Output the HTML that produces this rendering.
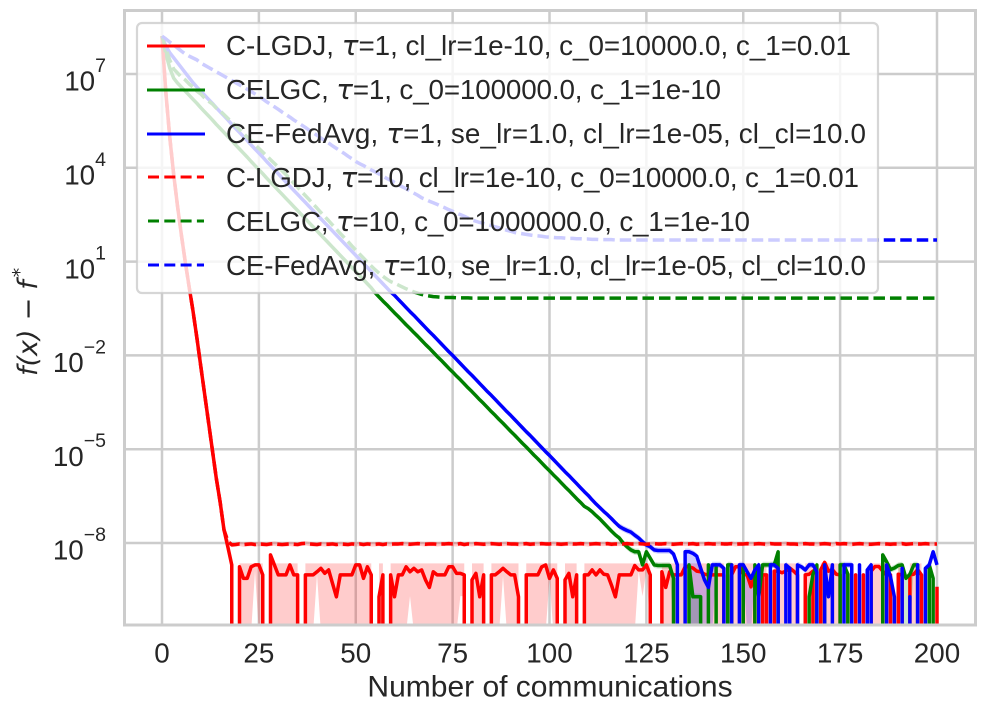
<!DOCTYPE html>
<html>
<head>
<meta charset="utf-8">
<title>Convergence chart</title>
<style>
html,body{margin:0;padding:0;background:#fff;width:986px;height:712px;overflow:hidden;}
svg{display:block;overflow:hidden;}
text{font-family:"Liberation Sans",Arial,sans-serif;fill:#262626;}
.math{font-family:"DejaVu Sans",sans-serif;font-style:italic;}
.leg{font-size:27.8px;}
</style>
</head>
<body>
<svg id="chart" width="986" height="712" viewBox="0 0 986 712" xmlns="http://www.w3.org/2000/svg">
  <defs><clipPath id="plot-clip"><rect x="124" y="10" width="852" height="615"/></clipPath></defs>
  <rect x="0" y="0" width="986" height="712" fill="#ffffff"/>
  <g id="grid"></g>
  <g id="marks" clip-path="url(#plot-clip)"></g>
  <rect x="124.5" y="10.5" width="851" height="614.5" fill="none" stroke="#cccccc" stroke-width="3"/>
  <g id="legend">
    <rect x="137" y="23" width="741" height="270" rx="5" ry="5" fill="#ffffff" fill-opacity="0.8" stroke="#cccccc" stroke-opacity="0.8" stroke-width="2.2"/>
    <g>
      <line x1="147" x2="205" y1="46" y2="46" stroke="#ff0000" stroke-width="3"/>
      <text class="leg" x="226" y="55" textLength="625" lengthAdjust="spacing">C-LGDJ, <tspan class="math">τ</tspan>=1, cl_lr=1e-10, c_0=10000.0, c_1=0.01</text>
    </g>
    <g>
      <line x1="147" x2="205" y1="90" y2="90" stroke="#008000" stroke-width="3"/>
      <text class="leg" x="226" y="99" textLength="495" lengthAdjust="spacing">CELGC, <tspan class="math">τ</tspan>=1, c_0=100000.0, c_1=1e-10</text>
    </g>
    <g>
      <line x1="147" x2="205" y1="134" y2="134" stroke="#0000ff" stroke-width="3"/>
      <text class="leg" x="226" y="143" textLength="640" lengthAdjust="spacing">CE-FedAvg, <tspan class="math">τ</tspan>=1, se_lr=1.0, cl_lr=1e-05, cl_cl=10.0</text>
    </g>
    <g>
      <line x1="148" x2="204" y1="177" y2="177" stroke="#ff0000" stroke-width="3" stroke-dasharray="11 5.3"/>
      <text class="leg" x="226" y="187" textLength="633" lengthAdjust="spacing">C-LGDJ, <tspan class="math">τ</tspan>=10, cl_lr=1e-10, c_0=10000.0, c_1=0.01</text>
    </g>
    <g>
      <line x1="148" x2="204" y1="221" y2="221" stroke="#008000" stroke-width="3" stroke-dasharray="11 5.3"/>
      <text class="leg" x="226" y="231" textLength="524" lengthAdjust="spacing">CELGC, <tspan class="math">τ</tspan>=10, c_0=1000000.0, c_1=1e-10</text>
    </g>
    <g>
      <line x1="148" x2="204" y1="265" y2="265" stroke="#0000ff" stroke-width="3" stroke-dasharray="11 5.3"/>
      <text class="leg" x="226" y="275" textLength="640" lengthAdjust="spacing">CE-FedAvg, <tspan class="math">τ</tspan>=10, se_lr=1.0, cl_lr=1e-05, cl_cl=10.0</text>
    </g>
  </g>
  <g id="ticks"></g>
  <text x="550" y="696.5" text-anchor="middle" font-size="30">Number of communications</text>
  <text transform="translate(37,376) rotate(-90)" font-size="27"><tspan class="math">f</tspan><tspan class="math" font-style="normal">(</tspan><tspan class="math">x</tspan><tspan class="math" font-style="normal">)</tspan><tspan class="math" font-style="normal" dx="9">−</tspan><tspan class="math" dx="8">f</tspan><tspan class="math" font-style="normal" font-size="19" dx="3" dy="-11">*</tspan></text>
</svg>
<script>
// All series values are log10(f(x) - f*) per communication round; null = exactly zero (falls off the log axis).
const xTickValues = [0, 25, 50, 75, 100, 125, 150, 175, 200];
const yTickExponents = [7, 4, 1, -2, -5, -8];

const clgdjTau1 = [
8.21,6.39,4.98,3.80,2.78,1.85,0.99,0.19,-0.58,-1.44,
-2.34,-3.24,-4.13,-5.03,-5.92,-6.69,-7.58,-8.13,-8.70,null,
-8.76,-9.13,-9.13,-8.76,-8.70,-8.70,-9.02,null,-8.38,-8.70,
-9.02,-9.02,-9.02,-8.70,-9.02,-9.02,null,-9.02,-9.02,-9.02,
-8.92,-8.81,-8.97,-8.86,-9.29,-9.72,-9.02,-9.02,-9.02,-9.02,
-8.70,-8.70,-9.13,-8.76,-9.02,null,-9.72,-9.02,null,-9.02,
-9.72,-9.02,-9.02,-8.76,-8.92,-8.81,-8.92,-8.86,-9.18,-9.42,
-8.92,-9.02,-9.02,-9.02,-8.76,-8.76,-8.97,-8.97,-9.02,null,
-9.18,-8.97,-9.72,-9.02,null,-9.02,-9.02,-8.92,-8.81,-8.92,
-9.02,-9.02,-9.72,null,-9.02,-9.02,-9.02,-9.02,-8.76,-8.70,
-9.13,-8.86,-9.13,null,-9.18,-8.97,-9.72,-9.02,null,-9.02,
-9.02,-8.86,-9.02,-8.86,-9.00,-9.02,-9.35,-9.72,-9.02,-9.02,
-9.02,-9.02,-8.72,-8.86,-8.86,-8.70,-9.02,null,null,-8.92,
-9.42,-8.92,-9.02,-9.02,-9.02,-8.76,-8.76,-8.80,-8.90,-8.92,
-9.00,-9.02,-9.02,-9.02,-9.02,-9.02,null,-9.02,-8.76,-8.76,
-9.00,-9.02,-9.40,-9.00,null,-9.02,-9.02,null,-8.90,-8.90,
-8.95,-8.90,-8.80,-8.90,-9.02,null,-9.02,-9.00,-8.90,null,
-8.85,-8.62,-8.90,-8.85,-9.00,-9.02,null,-9.00,null,-9.02,
null,-9.02,null,-8.90,-8.75,-8.75,-8.90,-9.02,-9.02,null,
-9.00,-9.02,null,-9.02,-9.00,-8.85,-9.02,null,-9.02,null,
-9.40];

const celgcTau1 = [
8.21,7.64,7.19,6.87,6.71,6.58,6.45,6.32,6.19,6.06,
5.92,5.79,5.66,5.53,5.39,5.26,5.13,5.00,4.87,4.73,
4.60,4.47,4.34,4.20,4.07,3.94,3.81,3.67,3.54,3.41,
3.28,3.15,3.02,2.89,2.76,2.63,2.50,2.37,2.24,2.11,
1.98,1.85,1.72,1.59,1.46,1.33,1.20,1.07,0.94,0.81,
0.68,0.55,0.42,0.29,0.16,0.00,-0.13,-0.26,-0.38,-0.51,
-0.64,-0.76,-0.89,-1.02,-1.14,-1.27,-1.39,-1.52,-1.65,-1.77,
-1.90,-2.03,-2.15,-2.28,-2.41,-2.53,-2.66,-2.78,-2.91,-3.04,
-3.16,-3.29,-3.42,-3.54,-3.67,-3.80,-3.92,-4.05,-4.17,-4.30,
-4.43,-4.55,-4.68,-4.81,-4.93,-5.06,-5.19,-5.31,-5.44,-5.57,
-5.69,-5.82,-5.94,-6.07,-6.20,-6.32,-6.45,-6.58,-6.70,-6.83,
-6.90,-7.00,-7.12,-7.23,-7.36,-7.49,-7.62,-7.74,-7.84,-8.00,
-8.12,-8.22,-8.28,-8.28,-8.70,-8.28,-8.49,-8.70,-8.72,-8.72,
-8.72,-8.72,-9.13,null,null,null,-8.70,-9.72,-9.72,-9.72,
null,-8.70,null,-8.70,null,null,-8.70,-8.70,null,null,
-8.70,null,null,-8.70,-9.72,-8.70,-8.70,-8.70,-8.70,-8.28,
null,null,null,null,null,null,null,-9.72,-9.00,-8.70,
null,-8.70,null,null,null,-8.70,-8.70,-9.00,null,null,
null,null,null,null,null,null,-8.38,-8.60,-8.85,-8.80,
-8.72,-8.70,-9.13,-9.00,-8.70,-8.70,null,null,-8.70,-9.13,
null];

const cefedavgTau1 = [
8.21,7.89,7.68,7.52,7.36,7.20,7.04,6.88,6.72,6.58,
6.45,6.32,6.19,6.06,5.92,5.79,5.66,5.53,5.39,5.26,
5.13,5.00,4.87,4.73,4.60,4.47,4.34,4.20,4.07,3.94,
3.81,3.67,3.54,3.41,3.28,3.15,3.02,2.89,2.76,2.63,
2.50,2.37,2.24,2.11,1.98,1.85,1.72,1.59,1.46,1.33,
1.20,1.07,0.94,0.81,0.68,0.55,0.42,0.29,0.16,0.03,
-0.08,-0.21,-0.34,-0.47,-0.60,-0.72,-0.85,-0.98,-1.11,-1.24,
-1.36,-1.49,-1.62,-1.75,-1.88,-2.00,-2.13,-2.26,-2.39,-2.52,
-2.64,-2.77,-2.90,-3.03,-3.16,-3.28,-3.41,-3.54,-3.67,-3.80,
-3.92,-4.05,-4.18,-4.31,-4.44,-4.56,-4.69,-4.82,-4.95,-5.08,
-5.20,-5.33,-5.46,-5.59,-5.72,-5.84,-5.97,-6.10,-6.23,-6.36,
-6.48,-6.62,-6.75,-6.87,-6.99,-7.10,-7.22,-7.35,-7.47,-7.54,
-7.60,-7.65,-7.75,-7.84,-7.96,-8.06,-8.12,-8.22,-8.24,-8.24,
-8.24,-8.24,-8.35,-8.70,null,-8.28,-8.28,-8.33,-8.42,-8.80,
-9.18,-9.42,-8.70,-8.70,-8.70,-8.81,null,-8.70,null,-8.70,
-8.70,-8.92,-9.13,-8.86,-8.70,null,null,-8.70,-8.70,-8.81,
null,-8.70,-8.81,null,-8.70,-8.76,-8.86,-8.70,-8.70,-8.92,
null,-8.70,-9.72,-8.70,null,null,-8.70,-8.70,-8.70,null,
-8.70,null,-8.86,-8.70,null,null,null,-8.70,-9.08,-9.72,
null,-8.81,null,-9.72,null,-8.70,null,-8.81,-8.70,-8.28,
-8.70];

const clgdjTau10 = [
8.21,6.39,4.98,3.80,2.78,1.85,0.99,0.19,-0.58,-1.44,
-2.34,-3.24,-4.13,-5.03,-5.92,-6.69,-7.58,-7.94,-8.06,-8.05,
-8.03,-8.05,-8.04,-8.03,-8.05,-8.03,-8.04,-8.05,-8.03,-8.02,
-8.04,-8.05,-8.04,-8.03,-8.04,-8.05,-8.02,-8.01,-8.03,-8.04,
-8.05,-8.03,-8.04,-8.04,-8.03,-8.05,-8.03,-8.04,-8.05,-8.03,
-8.04,-8.03,-8.05,-8.03,-8.04,-8.04,-8.03,-8.05,-8.03,-8.04,
-8.03,-8.03,-8.02,-8.03,-8.04,-8.03,-8.02,-8.03,-8.04,-8.03,
-8.03,-8.04,-8.03,-8.03,-8.02,-8.03,-8.04,-8.02,-8.05,-8.03,
-8.04,-8.02,-8.03,-8.04,-8.03,-8.02,-8.03,-8.04,-8.03,-8.02,
-8.03,-8.03,-8.04,-8.03,-8.02,-8.04,-8.03,-8.03,-8.02,-8.03,
-8.03,-8.02,-8.03,-8.04,-8.03,-8.02,-8.03,-8.03,-8.02,-8.03,
-8.04,-8.03,-8.02,-8.03,-8.03,-8.02,-8.04,-8.03,-8.03,-8.03,
-8.02,-8.03,-8.03,-8.02,-8.03,-8.04,-8.03,-8.02,-8.03,-8.03,
-8.02,-8.03,-8.04,-8.03,-8.02,-8.03,-8.03,-8.02,-8.04,-8.03,
-8.03,-8.02,-8.03,-8.03,-8.02,-8.03,-8.03,-8.02,-8.04,-8.03,
-8.03,-8.02,-8.03,-8.03,-8.02,-8.03,-8.04,-8.02,-8.03,-8.03,
-8.03,-8.02,-8.03,-8.03,-8.04,-8.03,-8.02,-8.03,-8.03,-8.04,
-8.03,-8.02,-8.03,-8.05,-8.02,-8.03,-8.02,-8.03,-8.04,-8.03,
-8.02,-8.03,-8.04,-8.04,-8.03,-8.02,-8.03,-8.03,-8.04,-8.03,
-8.03,-8.02,-8.04,-8.03,-8.02,-8.03,-8.03,-8.02,-8.03,-8.03,
-8.03];

const celgcTau10 = [
8.21,7.80,7.45,7.16,7.03,6.90,6.81,6.68,6.58,6.45,
6.36,6.23,6.13,6.04,5.91,5.82,5.70,5.58,5.46,5.34,
5.22,5.10,4.98,4.86,4.74,4.62,4.50,4.38,4.26,4.14,
4.02,3.90,3.78,3.65,3.51,3.38,3.24,3.11,2.98,2.84,
2.71,2.57,2.44,2.31,2.17,2.04,1.90,1.77,1.64,1.50,
1.37,1.24,1.11,0.98,0.86,0.74,0.63,0.53,0.44,0.36,
0.31,0.25,0.19,0.13,0.08,0.03,-0.01,-0.05,-0.08,-0.10,
-0.12,-0.13,-0.14,-0.15,-0.15,-0.15,-0.16,-0.16,-0.16,-0.16,
-0.17,-0.17,-0.17,-0.17,-0.17,-0.17,-0.17,-0.17,-0.17,-0.17,
-0.17,-0.17,-0.17,-0.17,-0.17,-0.17,-0.17,-0.17,-0.17,-0.17,
-0.17,-0.17,-0.17,-0.17,-0.17,-0.17,-0.17,-0.17,-0.17,-0.17,
-0.17,-0.17,-0.17,-0.17,-0.17,-0.17,-0.17,-0.17,-0.17,-0.17,
-0.17,-0.17,-0.17,-0.17,-0.17,-0.17,-0.17,-0.17,-0.17,-0.17,
-0.17,-0.17,-0.17,-0.17,-0.17,-0.17,-0.17,-0.17,-0.17,-0.17,
-0.17,-0.17,-0.17,-0.17,-0.17,-0.17,-0.17,-0.17,-0.17,-0.17,
-0.17,-0.17,-0.17,-0.17,-0.17,-0.17,-0.17,-0.17,-0.17,-0.17,
-0.17,-0.17,-0.17,-0.17,-0.17,-0.17,-0.17,-0.17,-0.17,-0.17,
-0.17,-0.17,-0.17,-0.17,-0.17,-0.17,-0.17,-0.17,-0.17,-0.17,
-0.17,-0.17,-0.17,-0.17,-0.17,-0.17,-0.17,-0.17,-0.17,-0.17,
-0.17,-0.17,-0.17,-0.17,-0.17,-0.17,-0.17,-0.17,-0.17,-0.17,
-0.17];

const cefedavgTau10 = [
8.21,8.12,8.02,7.93,7.83,7.73,7.64,7.57,7.51,7.45,
7.35,7.28,7.21,7.14,7.07,7.00,6.93,6.86,6.79,6.72,
6.65,6.58,6.51,6.44,6.36,6.28,6.20,6.11,6.03,5.95,
5.87,5.78,5.70,5.62,5.53,5.45,5.37,5.29,5.20,5.12,
5.04,4.95,4.87,4.79,4.70,4.62,4.54,4.46,4.37,4.29,
4.20,4.13,4.07,4.00,3.93,3.87,3.80,3.73,3.66,3.60,
3.53,3.46,3.39,3.33,3.26,3.19,3.12,3.04,2.99,2.93,
2.88,2.83,2.77,2.72,2.66,2.61,2.55,2.50,2.45,2.39,
2.33,2.29,2.25,2.22,2.18,2.15,2.11,2.08,2.04,2.00,
1.97,1.93,1.91,1.89,1.87,1.85,1.83,1.82,1.81,1.79,
1.78,1.77,1.76,1.76,1.75,1.74,1.74,1.73,1.73,1.72,
1.72,1.71,1.71,1.70,1.70,1.70,1.70,1.69,1.69,1.69,
1.69,1.69,1.69,1.69,1.69,1.69,1.69,1.69,1.69,1.69,
1.69,1.69,1.69,1.69,1.69,1.69,1.69,1.69,1.69,1.69,
1.69,1.69,1.69,1.69,1.69,1.69,1.69,1.69,1.69,1.69,
1.69,1.69,1.69,1.69,1.69,1.69,1.69,1.69,1.69,1.69,
1.69,1.69,1.69,1.69,1.69,1.69,1.69,1.69,1.69,1.69,
1.69,1.69,1.69,1.69,1.69,1.69,1.69,1.69,1.69,1.69,
1.69,1.69,1.69,1.69,1.69,1.69,1.69,1.69,1.69,1.69,
1.69,1.69,1.69,1.69,1.69,1.69,1.69,1.69,1.69,1.69,
1.69];

// Rounds where the red shaded spread stops short of the axis bottom, and the log10 level it stops at.
const clgdjNarrowRounds = [24,40,64,77,78,88,100,123,124,125];
const clgdjNarrowFloors = [-8.9,-9.0,-9.7,-9.7,-9.7,-9.05,-9.15,-8.9,-9.7,-8.9];
// Rounds at which the green and blue spreads do reach the bottom of the axis.
const celgcDeepRounds = [132,136,137,138,139,167,168,169,191,192,193];
const cefedavgDeepRounds = [136,137,138,139,140,141,142,151,152,188,189];

const svgNS = 'http://www.w3.org/2000/svg';
const xScale = function (round) { return 162 + 3.875 * round; };
const yScale = function (logValue) { return 543 - (logValue + 8) * 31.27; };
const belowAxisY = 632;

const gridGroup = document.getElementById('grid');
const marksGroup = document.getElementById('marks');
const ticksGroup = document.getElementById('ticks');

xTickValues.forEach(function (t) {
  const g = document.createElementNS(svgNS, 'line');
  
  
  g.setAttribute('x1', xScale(t));
  g.setAttribute('x2', xScale(t));
  g.setAttribute('y1', 10);
  g.setAttribute('y2', 625);
  g.setAttribute('stroke', '#cccccc');
  g.setAttribute('stroke-width', 2.5);
  gridGroup.appendChild(g);
  const l = document.createElementNS(svgNS, 'text');
  
  
  l.setAttribute('x', xScale(t));
  l.setAttribute('y', 662.7);
  l.setAttribute('text-anchor', 'middle');
  l.setAttribute('font-size', 27.8);
  l.textContent = String(t);
  ticksGroup.appendChild(l);
});

yTickExponents.forEach(function (e) {
  const g = document.createElementNS(svgNS, 'line');
  
  
  g.setAttribute('x1', 124);
  g.setAttribute('x2', 976);
  g.setAttribute('y1', yScale(e));
  g.setAttribute('y2', yScale(e));
  g.setAttribute('stroke', '#cccccc');
  g.setAttribute('stroke-width', 2.5);
  gridGroup.appendChild(g);
  const l = document.createElementNS(svgNS, 'text');
  
  
  l.setAttribute('x', 106);
  l.setAttribute('y', yScale(e) + 16.7);
  l.setAttribute('text-anchor', 'end');
  l.setAttribute('font-size', 27.8);
  const base = document.createElementNS(svgNS, 'tspan');
  base.textContent = '10';
  l.appendChild(base);
  const sup = document.createElementNS(svgNS, 'tspan');
  sup.setAttribute('font-size', 19.5);
  sup.setAttribute('dy', -18.7);
  sup.textContent = e < 0 ? '\u2212' + Math.abs(e) : String(e);
  l.appendChild(sup);
  ticksGroup.appendChild(l);
});

function drawBand(values, startRound, color, upperFn, lowerFn, name) {
  let run = [];
  const flush = function () {
    if (run.length > 0) {
      const top = run.map(function (i) { return xScale(i) + ',' + yScale(upperFn(i)); });
      const bottom = run.slice().reverse().map(function (i) {
        const low = lowerFn(i);
        return xScale(i) + ',' + (low === null ? belowAxisY : yScale(low));
      });
      const p = document.createElementNS(svgNS, 'polygon');
      
      
      p.setAttribute('points', top.concat(bottom).join(' '));
      p.setAttribute('fill', color);
      p.setAttribute('fill-opacity', 0.2);
      marksGroup.appendChild(p);
    }
    run = [];
  };
  values.forEach(function (v, i) {
    if (i < startRound || v === null) { flush(); } else { run.push(i); }
  });
  flush();
}

drawBand(clgdjTau1, 18, '#ff0000',
  function (i) { return Math.max(clgdjTau1[i] + 0.05, -8.65); },
  function (i) {
    const k = clgdjNarrowRounds.indexOf(i);
    return k >= 0 ? clgdjNarrowFloors[k] : null;
  },
  'c-lgdj-tau-1-spread');
drawBand(celgcTau1, 118, '#008000',
  function (i) { return celgcTau1[i] + 0.1; },
  function (i) { return celgcDeepRounds.indexOf(i) >= 0 ? null : celgcTau1[i] - 0.1; },
  'celgc-tau-1-spread');
drawBand(cefedavgTau1, 118, '#0000ff',
  function (i) { return cefedavgTau1[i] + 0.1; },
  function (i) { return cefedavgDeepRounds.indexOf(i) >= 0 ? null : cefedavgTau1[i] - 0.1; },
  'ce-fedavg-tau-1-spread');
drawBand(clgdjTau10, 16, '#ff0000',
  function (i) { return clgdjTau10[i] + 0.07; },
  function (i) { return clgdjTau10[i] - 0.07; },
  'c-lgdj-tau-10-spread');

function drawLine(values, color, dashed, name) {
  const pts = [];
  values.forEach(function (v, i) {
    if (v !== null) {
      pts.push(xScale(i).toFixed(2) + ',' + yScale(v).toFixed(2));
    } else {
      // A zero value sits infinitely far down a log axis: the line drops straight off the plot.
      if (i > 0 && values[i - 1] !== null) {
        pts.push(xScale(i - 1).toFixed(2) + ',' + belowAxisY);
      }
      if (i < values.length - 1 && values[i + 1] !== null) {
        pts.push(xScale(i + 1).toFixed(2) + ',' + belowAxisY);
      }
    }
  });
  const p = document.createElementNS(svgNS, 'polyline');
  
  
  p.setAttribute('points', pts.join(' '));
  p.setAttribute('fill', 'none');
  p.setAttribute('stroke', color);
  p.setAttribute('stroke-width', 3.5);
  p.setAttribute('stroke-linejoin', 'round');
  if (dashed) { p.setAttribute('stroke-dasharray', '11.5 5'); }
  marksGroup.appendChild(p);
}

drawLine(clgdjTau1, '#ff0000', false, 'line-c-lgdj-tau-1');
drawLine(celgcTau1, '#008000', false, 'line-celgc-tau-1');
drawLine(cefedavgTau1, '#0000ff', false, 'line-ce-fedavg-tau-1');
drawLine(clgdjTau10, '#ff0000', true, 'line-c-lgdj-tau-10');
drawLine(celgcTau10, '#008000', true, 'line-celgc-tau-10');
drawLine(cefedavgTau10, '#0000ff', true, 'line-ce-fedavg-tau-10');
</script>
</body>
</html>
